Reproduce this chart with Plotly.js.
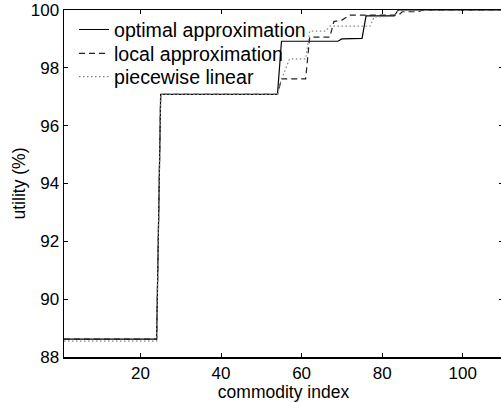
<!DOCTYPE html>
<html>
<head>
<meta charset="utf-8">
<script src="https://cdn.plot.ly/plotly-3.0.1.min.js"></script>
<style>html,body{margin:0;padding:0;overflow:hidden;background:#fff;}</style>
</head>
<body>
<div id="chart"></div>
<script>
// commodity index breakpoints and utility (%) values
var optimalX = [1, 24, 25, 54, 55, 69, 70, 75, 76, 83, 84, 110];
var optimalY = [88.62, 88.62, 97.08, 97.08, 98.92, 98.92, 99.0, 99.02, 99.8, 99.8, 100, 100];

var localX = [1, 24, 25, 54, 55, 61, 62, 67, 68, 70, 72, 84, 85, 89, 90, 110];
var localY = [88.62, 88.62, 97.08, 97.08, 97.62, 97.62, 99.06, 99.06, 99.6, 99.65, 99.82, 99.82, 99.94, 99.94, 100, 100];

var pwlX = [1, 24, 25, 54, 55, 57, 61, 62, 66, 67, 77, 78, 83, 84, 110];
var pwlY = [88.55, 88.55, 97.08, 97.08, 97.6, 98.31, 98.31, 99.27, 99.27, 99.44, 99.44, 99.76, 99.78, 100, 100];

var seriesNames = ['optimal approximation', 'local approximation', 'piecewise linear'];
var xTicks = [20, 40, 60, 80, 100];
var yTicks = [88, 90, 92, 94, 96, 98, 100];

var FONT = 'Liberation Sans, Arial, Helvetica, sans-serif';

var traces = [
  {x: optimalX, y: optimalY, name: seriesNames[0], mode: 'lines', legend: 'legend',
   line: {color: '#000000', width: 1.2}},
  {x: localX, y: localY, name: seriesNames[1], mode: 'lines', legend: 'legend2',
   line: {color: '#222222', width: 1.2, dash: '6px,4px'}},
  {x: pwlX, y: pwlY, name: seriesNames[2], mode: 'lines', legend: 'legend3',
   line: {color: '#888888', width: 1.2, dash: '1.5px,2.5px'}}
];

function leg(y) {
  return {x: 0.0228, y: y, xanchor: 'left', yanchor: 'middle', bgcolor: 'rgba(0,0,0,0)',
          borderwidth: 0, font: {family: FONT, size: 19.6, color: '#000'}, itemwidth: 30,
          tracegroupgap: 0};
}

var axisCommon = {
  showgrid: false, zeroline: false, showline: true, linecolor: '#000', linewidth: 1.5,
  mirror: 'ticks', ticks: 'inside', ticklen: 4, tickwidth: 1, tickcolor: '#000',
  tickfont: {family: FONT, size: 17, color: '#000'}
};

var layout = {
  width: 505, height: 402,
  margin: {l: 64, r: 2, t: 10, b: 45},
  paper_bgcolor: '#fff', plot_bgcolor: '#fff',
  showlegend: true,
  legend: leg(0.943),
  legend2: leg(0.874),
  legend3: leg(0.807),
  xaxis: Object.assign({}, axisCommon, {
    range: [1, 110], tickvals: xTicks, ticktext: xTicks.map(String),
    title: {text: 'commodity index', font: {family: FONT, size: 17.5, color: '#000'}, standoff: 0}
  }),
  yaxis: Object.assign({}, axisCommon, {
    range: [88, 100], tickvals: yTicks, ticktext: yTicks.map(String),
    title: {text: 'utility (%)', font: {family: FONT, size: 17.5, color: '#000'}, standoff: 0}
  })
};

Plotly.newPlot('chart', traces, layout, {displayModeBar: false, staticPlot: true});
</script>
</body>
</html>
